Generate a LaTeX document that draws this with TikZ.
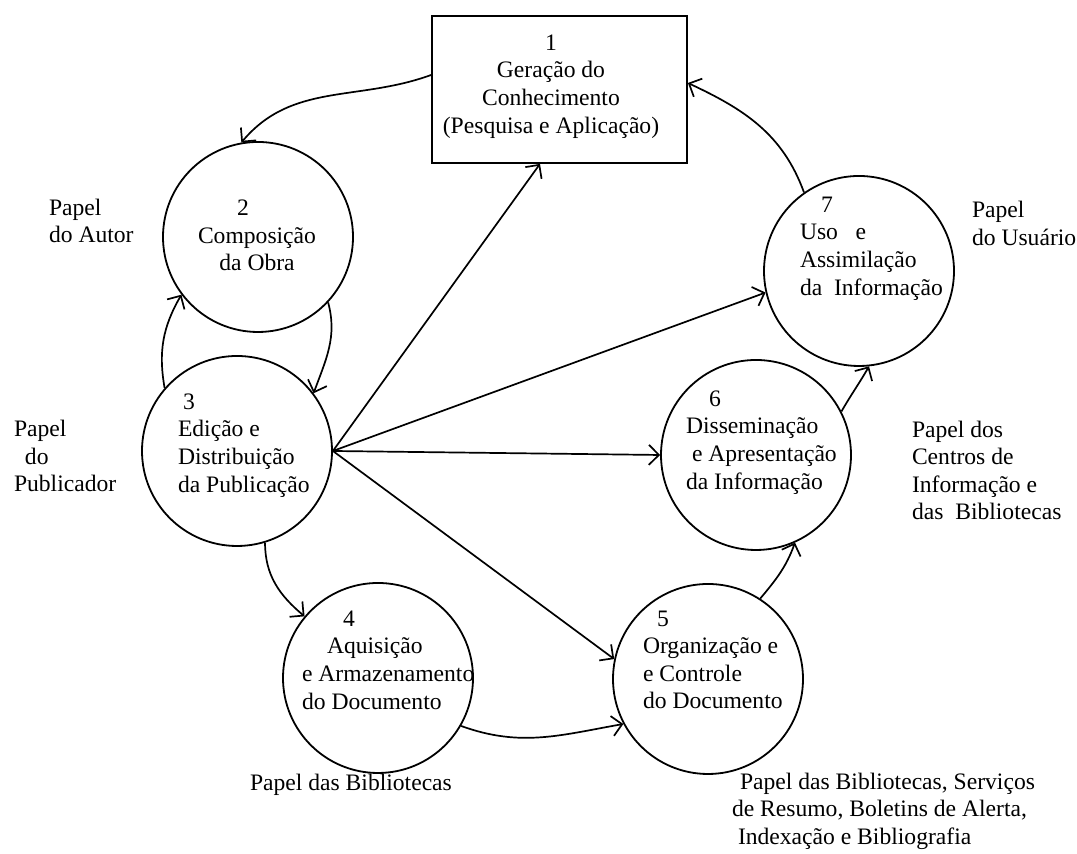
\documentclass[tikz,border=0pt]{standalone}
\usepackage{fontspec}
\setmainfont{Liberation Serif}
\usetikzlibrary{arrows.meta}
\begin{document}
\begin{tikzpicture}[x=0.5pt,y=0.5pt,
  every node/.style={font=\fontsize{11.8pt}{13.8pt}\selectfont},
  proc/.style={draw, circle, line width=0.9pt, minimum size=95pt, inner sep=0pt},
  boxnode/.style={draw, line width=0.9pt, minimum width=127.5pt, minimum height=73.5pt, inner sep=0pt},
  txt/.style={inner sep=0pt, outer sep=0pt},
  arr/.style={line width=0.85pt, -{Straight Barb[length=5pt,width=10pt]}}]
\useasboundingbox (0,0) rectangle (1077,854);
% shapes
\node[boxnode] (b1) at (559.5,764.5) {};
\node[proc] (c2) at (258,617) {};
\node[proc] (c3) at (237,403) {};
\node[proc] (c4) at (378,176) {};
\node[proc] (c5) at (708,175) {};
\node[proc] (c6) at (756,399) {};
\node[proc] (c7) at (859,583) {};
% texts inside
\node[txt, align=center] (t1) at (551,767.5) {1\\Geração do\\Conhecimento\\(Pesquisa e Aplicação)};
\node[txt, align=center] (t2) at (257,618.5) {\hspace*{-14pt}2\\Composição\\da Obra};
\node[txt, align=left, anchor=west] (t3) at (178,408.5) {\hspace*{2.5pt}3\\Edição e\\Distribuição\\da Publicação};
\node[txt, align=left, anchor=west] (t4) at (302,194) {\hspace*{20.5pt}4\\\hspace*{12.5pt}Aquisição\\e Armazenamento\\do Documento};
\node[txt, align=left, anchor=west] (t5) at (643,194) {\hspace*{7pt}5\\Organização e\\e Controle\\do Documento};
\node[txt, align=left, anchor=west] (t6) at (686,411.5) {\hspace*{11.5pt}6\\Disseminação\\\hspace*{3pt}e Apresentação\\da Informação};
\node[txt, align=left, anchor=west] (t7) at (800,605.5) {\hspace*{10.5pt}7\\Uso\ \ \ e\\Assimilação\\da\ \ Informação};
% role labels
\node[txt, align=left, anchor=west] (l2) at (49,633) {Papel\\do Autor};
\node[txt, align=left, anchor=west] (l3) at (14,398) {Papel\\\hspace*{5.5pt}do\\Publicador};
\node[txt, align=left, anchor=west] (l7) at (972,630.5) {Papel\\do Usuário};
\node[txt, align=left, anchor=west] (l6) at (912,383.5) {Papel dos\\Centros de\\Informação e\\das\ \ Bibliotecas};
\node[txt, anchor=west] (l4) at (250,69) {Papel das Bibliotecas};
\node[txt, align=left, anchor=west] (l5) at (732,43) {\hspace*{4pt}Papel das Bibliotecas, Serviços\\de Resumo, Boletins de Alerta,\\\hspace*{3pt}Indexação e Bibliografia};
% connectors
\draw[arr] ([yshift=7.25pt]b1.west) to[out=200, in=50] (c2.100);
\draw[arr] (c2.317) to[out=-75, in=70] (c3.37);
\draw[arr] (c3.139) to[out=100, in=240] (c2.217);
\draw[arr] (c3.287) to[out=-90, in=140] (c4.140);
\draw[arr] (c4.330) to[out=-20, in=190] (c5.208);
\draw[arr] (c3.east) -- ([xshift=-9.75pt]b1.south);
\draw[arr] (c3.east) -- (c7.193);
\draw[arr] (c3.east) -- (c6.west);
\draw[arr] (c3.east) -- (c5.168);
\draw[arr] (c5.57) to[out=50, in=250] (c6.294);
\draw[arr] (c6.27) to[out=60, in=240] (c7.276);
\draw[arr] (c7.125) to[out=110, in=-25] ([yshift=3.25pt]b1.east);
\end{tikzpicture}
\end{document}
